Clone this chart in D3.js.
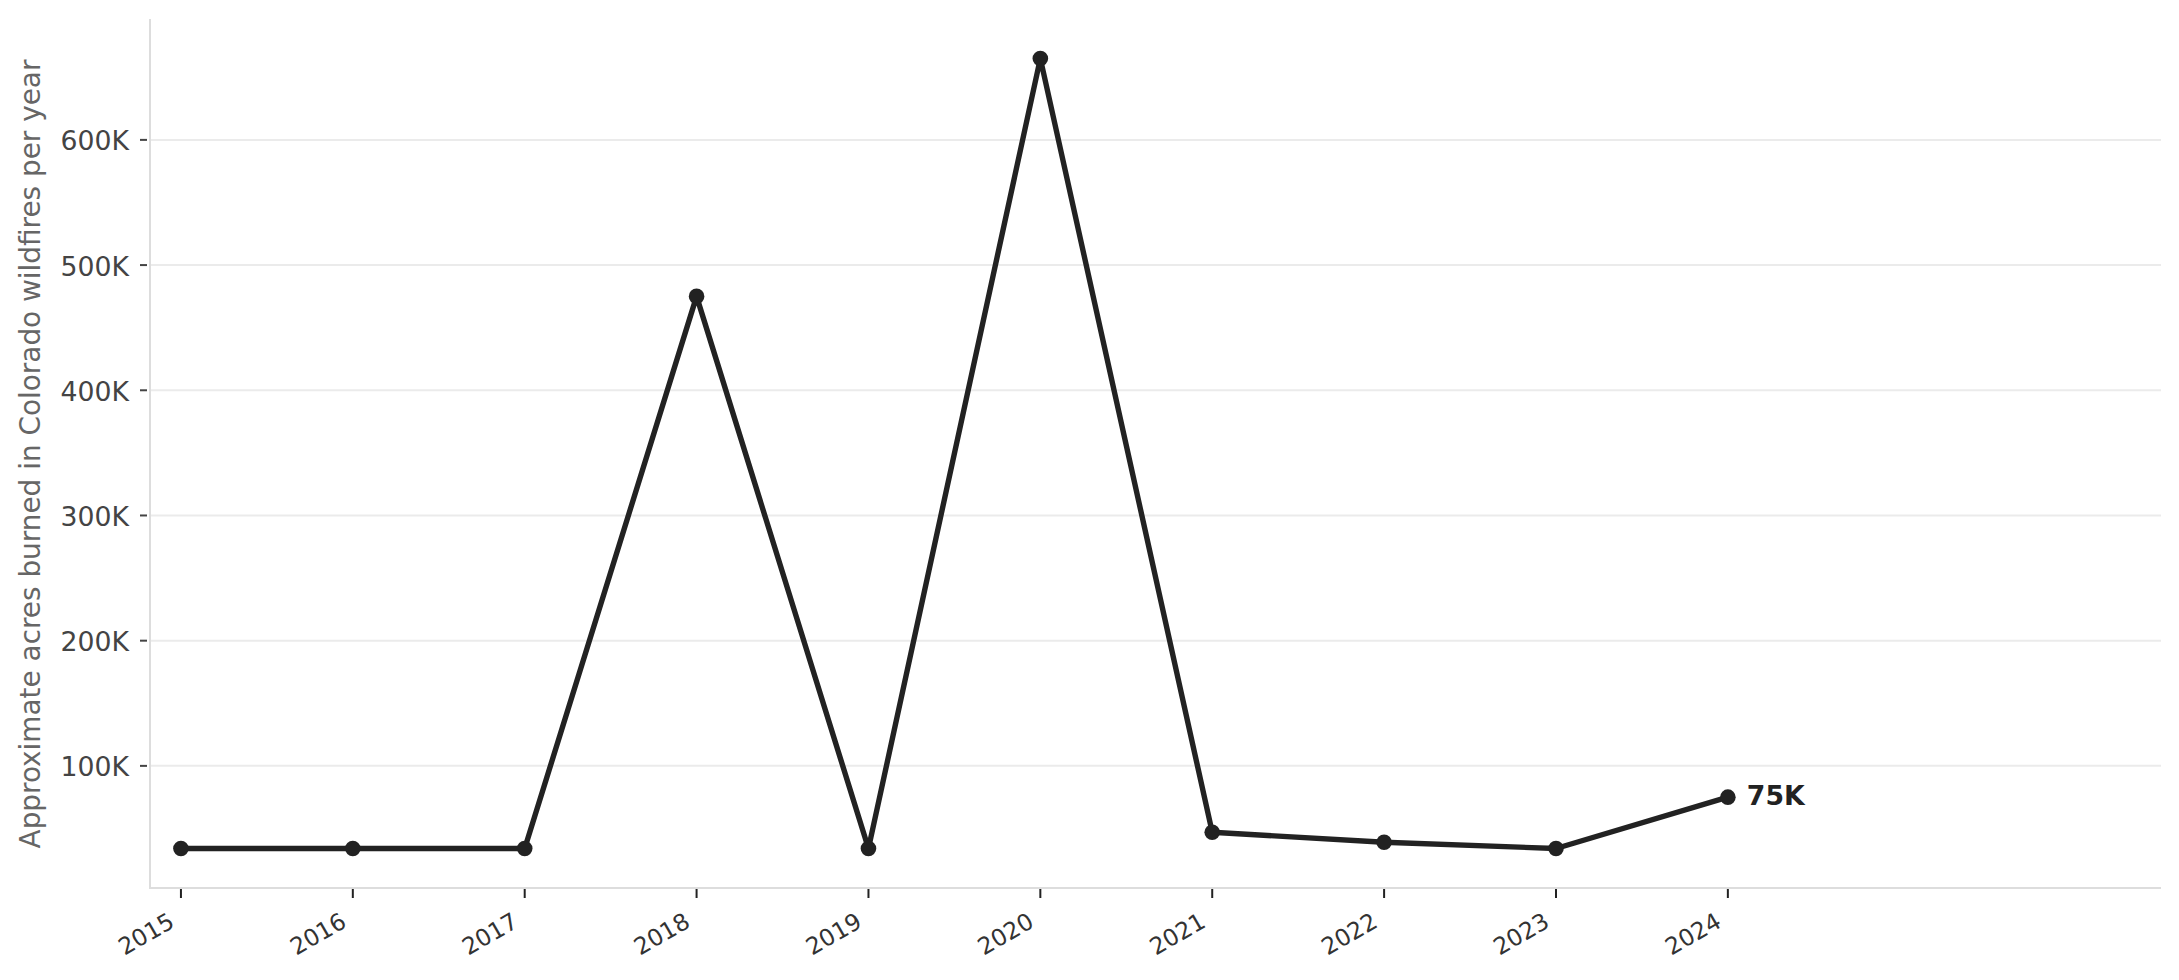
<!DOCTYPE html>
<html>
	<head>
		<meta http-equiv="Content-Type" content="text/html;charset=utf-8"/>
		<title>Colorado wildfires</title>
		<script src="https://d3js.org/d3.v7.min.js"></script>
		<style type="text/css">

			body {
				margin: 0;
				background: #ffffff;
			}

			svg {
				font-family: "DejaVu Sans", sans-serif;
			}

			.grid line {
				stroke: #ebebeb;
				stroke-width: 2;
			}

			.spine {
				stroke: #dddddd;
				stroke-width: 2;
			}

		</style>
	</head>
	<body>
		<script type="text/javascript">

			//Chart data
			var years = [2015, 2016, 2017, 2018, 2019, 2020, 2021, 2022, 2023, 2024];
			var acres = [34000, 34000, 34000, 475000, 34000, 665000, 47000, 39000, 34000, 75000];
			var yTicks = [100000, 200000, 300000, 400000, 500000, 600000];
			var yLabel = "Approximate acres burned in Colorado wildfires per year";
			var lastLabel = "75K";

			var data = years.map(function(y, i) {
				return { year: y, value: acres[i] };
			});

			//Size of the picture and the plot box
			//(note: "top" is taken by window.top, so use other names)
			var w = 2179,
				h = 980,
				plotLeft = 150,
				plotRight = 2161,
				plotTop = 19,
				plotBottom = 888;

			//x scale, with room on the right for the end label
			var xScale = d3.scaleLinear()
						.domain([2014.82, 2026.52])
						.range([plotLeft, plotRight]);

			//y scale, padded by 5% of the data range like matplotlib
			var yMin = d3.min(acres),
				yMax = d3.max(acres),
				pad = (yMax - yMin) * 0.05;

			var yScale = d3.scaleLinear()
						.domain([yMin - pad, yMax + pad])
						.range([plotBottom, plotTop]);

			var svg = d3.select("body").append("svg")
						.attr("width", w)
						.attr("height", h);

			svg.append("rect")
				.attr("width", w)
				.attr("height", h)
				.attr("fill", "#ffffff");

			//Horizontal grid lines
			svg.append("g")
				.attr("class", "grid")
				.selectAll("line")
				.data(yTicks)
				.enter()
				.append("line")
				.attr("x1", plotLeft)
				.attr("x2", plotRight)
				.attr("y1", function(d) { return yScale(d); })
				.attr("y2", function(d) { return yScale(d); });

			//Spines (left and bottom only)
			svg.append("line")
				.attr("class", "spine")
				.attr("x1", plotLeft).attr("x2", plotLeft)
				.attr("y1", plotTop).attr("y2", plotBottom + 1);
			svg.append("line")
				.attr("class", "spine")
				.attr("x1", plotLeft - 1).attr("x2", plotRight)
				.attr("y1", plotBottom).attr("y2", plotBottom);

			//y axis ticks and labels
			var yAxis = svg.append("g");
			yAxis.selectAll("line")
				.data(yTicks)
				.enter()
				.append("line")
				.attr("x1", plotLeft - 10)
				.attr("x2", plotLeft - 3)
				.attr("y1", function(d) { return yScale(d); })
				.attr("y2", function(d) { return yScale(d); })
				.attr("stroke", "#444444")
				.attr("stroke-width", 2);
			yAxis.selectAll("text")
				.data(yTicks)
				.enter()
				.append("text")
				.attr("x", 129)
				.attr("y", function(d) { return yScale(d) + 10.5; })
				.attr("text-anchor", "end")
				.attr("font-size", "26.7px")
				.attr("fill", "#444444")
				.text(function(d) { return (d / 1000) + "K"; });

			//x axis ticks and rotated labels
			var xAxis = svg.append("g");
			xAxis.selectAll("line")
				.data(years)
				.enter()
				.append("line")
				.attr("x1", function(d) { return xScale(d); })
				.attr("x2", function(d) { return xScale(d); })
				.attr("y1", plotBottom + 1)
				.attr("y2", plotBottom + 10)
				.attr("stroke", "#222222")
				.attr("stroke-width", 2);
			xAxis.selectAll("text")
				.data(years)
				.enter()
				.append("text")
				.attr("transform", function(d) {
					return "translate(" + (xScale(d) - 5) + "," + (plotBottom + 38) + ") rotate(-30)";
				})
				.attr("text-anchor", "end")
				.attr("font-size", "23.4px")
				.attr("fill", "#333333")
				.text(function(d) { return d; });

			//y axis title
			svg.append("text")
				.attr("transform", "translate(40,454) rotate(-90)")
				.attr("text-anchor", "middle")
				.attr("font-size", "27.9px")
				.attr("fill", "#666666")
				.text(yLabel);

			//The line
			var line = d3.line()
						.x(function(d) { return xScale(d.year); })
						.y(function(d) { return yScale(d.value); });

			svg.append("path")
				.datum(data)
				.attr("d", line)
				.attr("fill", "none")
				.attr("stroke", "#222222")
				.attr("stroke-width", 5.4)
				.attr("stroke-linejoin", "round");

			//Point markers
			svg.selectAll("circle.pt")
				.data(data)
				.enter()
				.append("circle")
				.attr("class", "pt")
				.attr("cx", function(d) { return xScale(d.year); })
				.attr("cy", function(d) { return yScale(d.value); })
				.attr("r", 7.8)
				.attr("fill", "#222222");

			//Label on the last point
			var last = data[data.length - 1];
			svg.append("text")
				.attr("x", xScale(last.year) + 19)
				.attr("y", yScale(last.value) + 8)
				.attr("font-size", "26.7px")
				.attr("font-weight", "bold")
				.attr("fill", "#222222")
				.text(lastLabel);

		</script>
	</body>
</html>
